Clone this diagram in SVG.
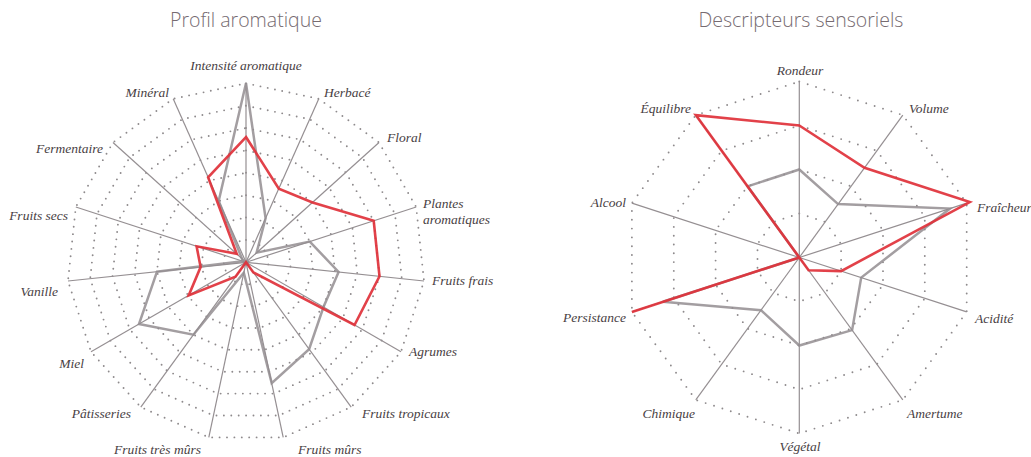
<svg xmlns="http://www.w3.org/2000/svg" width="1031" height="457" viewBox="0 0 1031 457">
<style>
.title{font-family:"Open Sans","Liberation Sans",sans-serif;font-weight:300;font-size:19.5px;fill:#766b71;text-anchor:middle}
.lbl{font-family:"Liberation Serif","DejaVu Serif",serif;font-style:italic;font-size:13.5px;fill:#483e43}
.ring{fill:none;stroke:#8e8a8c;stroke-width:1.9;stroke-linecap:round;stroke-dasharray:0 7.4}
.ring2{fill:none;stroke:#8e8a8c;stroke-width:1.9;stroke-linecap:round;stroke-dasharray:0 8.8}
.axis{stroke:#958f92;stroke-width:1.2;fill:none}
.gray{fill:none;stroke:#938d90;stroke-width:2.5;stroke-opacity:0.85;stroke-linejoin:miter}
.red{fill:none;stroke:#e0313a;stroke-width:2.6;stroke-opacity:0.92;stroke-linejoin:miter}
</style>
<rect width="1031" height="457" fill="#ffffff"/>
<text class="title" x="246" y="26.5">Profil aromatique</text>
<text class="title" x="801" y="26.5">Descripteurs sensoriels</text>

<g id="chart-profil" transform="translate(246,262.3)">
 <g id="rings-left">
  <polygon class="ring" points="0,-22.4 9.1,-20.4 16.6,-15 21.3,-6.9 22.3,2.3 19.4,11.2 13.2,18.1 4.7,21.9 -4.7,21.9 -13.2,18.1 -19.4,11.2 -22.3,2.3 -21.3,-6.9 -16.6,-15 -9.1,-20.4"/>
  <polygon class="ring" points="0,-44.75 18.2,-40.9 33.3,-29.9 42.6,-13.8 44.5,4.7 38.8,22.4 26.3,36.2 9.3,43.8 -9.3,43.8 -26.3,36.2 -38.8,22.4 -44.5,4.7 -42.6,-13.8 -33.3,-29.9 -18.2,-40.9"/>
  <polygon class="ring" points="0,-67.1 27.3,-61.3 49.9,-44.9 63.8,-20.7 66.8,7 58.1,33.6 39.5,54.3 14,65.7 -14,65.7 -39.5,54.3 -58.1,33.6 -66.8,7 -63.8,-20.7 -49.9,-44.9 -27.3,-61.3"/>
  <polygon class="ring" points="0,-89.5 36.4,-81.8 66.5,-59.9 85.1,-27.7 89,9.4 77.5,44.75 52.6,72.4 18.6,87.5 -18.6,87.5 -52.6,72.4 -77.5,44.75 -89,9.4 -85.1,-27.7 -66.5,-59.9 -36.4,-81.8"/>
  <polygon class="ring" points="0,-111.9 45.5,-102.2 83.1,-74.9 106.4,-34.6 111.3,11.7 96.9,55.9 65.8,90.5 23.3,109.4 -23.3,109.4 -65.8,90.5 -96.9,55.9 -111.3,11.7 -106.4,-34.6 -83.1,-74.9 -45.5,-102.2"/>
  <polygon class="ring" points="0,-134.25 54.6,-122.6 99.8,-89.8 127.7,-41.5 133.5,14 116.3,67.1 78.9,108.6 27.9,131.3 -27.9,131.3 -78.9,108.6 -116.3,67.1 -133.5,14 -127.7,-41.5 -99.8,-89.8 -54.6,-122.6"/>
  <polygon class="ring" points="0,-156.6 63.7,-143.1 116.4,-104.8 149,-48.4 155.8,16.4 135.6,78.3 92.1,126.7 32.6,153.2 -32.6,153.2 -92.1,126.7 -135.6,78.3 -155.8,16.4 -149,-48.4 -116.4,-104.8 -63.7,-143.1"/>
  <polygon class="ring" points="0,-179 72.8,-163.5 133,-119.8 170.2,-55.3 178,18.7 155,89.5 105.2,144.8 37.2,175.1 -37.2,175.1 -105.2,144.8 -155,89.5 -178,18.7 -170.2,-55.3 -133,-119.8 -72.8,-163.5"/>
 </g>
 <g id="axes-left" class="axis">
  <line x1="0" y1="0" x2="0" y2="-179"/>
  <line x1="0" y1="0" x2="72.8" y2="-163.5"/>
  <line x1="0" y1="0" x2="133" y2="-119.8"/>
  <line x1="0" y1="0" x2="170.2" y2="-55.3"/>
  <line x1="0" y1="0" x2="178" y2="18.7"/>
  <line x1="0" y1="0" x2="155" y2="89.5"/>
  <line x1="0" y1="0" x2="105.2" y2="144.8"/>
  <line x1="0" y1="0" x2="37.2" y2="175.1"/>
  <line x1="0" y1="0" x2="-37.2" y2="175.1"/>
  <line x1="0" y1="0" x2="-105.2" y2="144.8"/>
  <line x1="0" y1="0" x2="-155" y2="89.5"/>
  <line x1="0" y1="0" x2="-178" y2="18.7"/>
  <line x1="0" y1="0" x2="-170.2" y2="-55.3"/>
  <line x1="0" y1="0" x2="-133" y2="-119.8"/>
  <line x1="0" y1="0" x2="-72.8" y2="-163.5"/>
 </g>
 <g id="series-left">
  <polygon id="left-gray" class="gray" points="0,-179 19.6,-44.1 10.6,-9.6 63.8,-20.7 92.6,9.7 77.5,44.75 63.1,86.9 25.7,120.8 -2.2,10.5 -52.6,72.4 -107,61.8 -89,9.4 -3.4,-1.1 -4,-3.6 -27.3,-61.3"/>
  <polygon id="left-red" class="red" points="0,-125.3 32.8,-73.6 66.5,-59.9 127.7,-41.5 133.5,14 108.5,62.7 7.4,10.1 0,0 0,0 -10.5,14.5 -57.3,33.1 -45.4,4.8 -49.4,-16 -9.3,-8.4 -37.9,-85"/>
 </g>
</g>

<g id="labels-left" class="lbl">
 <text x="246" y="69.5" text-anchor="middle">Intensité aromatique</text>
 <text x="324" y="97">Herbacé</text>
 <text x="387" y="142">Floral</text>
 <text x="423" y="208">Plantes</text>
 <text x="423" y="224">aromatiques</text>
 <text x="432" y="285">Fruits frais</text>
 <text x="409" y="355.5">Agrumes</text>
 <text x="362" y="418">Fruits tropicaux</text>
 <text x="298" y="453.5">Fruits mûrs</text>
 <text x="201" y="453.5" text-anchor="end">Fruits très mûrs</text>
 <text x="131" y="418" text-anchor="end">Pâtisseries</text>
 <text x="84" y="368" text-anchor="end">Miel</text>
 <text x="58" y="296" text-anchor="end">Vanille</text>
 <text x="68" y="220" text-anchor="end">Fruits secs</text>
 <text x="103" y="153" text-anchor="end">Fermentaire</text>
 <text x="169" y="97" text-anchor="end">Minéral</text>
</g>

<g id="chart-descripteurs" transform="translate(799.3,257.5)">
 <g id="rings-right">
  <polygon class="ring2" points="0,-44 25.9,-35.6 41.8,-13.6 41.8,13.6 25.9,35.6 0,44 -25.9,35.6 -41.8,13.6 -41.8,-13.6 -25.9,-35.6"/>
  <polygon class="ring2" points="0,-88 51.7,-71.2 83.7,-27.2 83.7,27.2 51.7,71.2 0,88 -51.7,71.2 -83.7,27.2 -83.7,-27.2 -51.7,-71.2"/>
  <polygon class="ring2" points="0,-132 77.6,-106.8 125.5,-40.8 125.5,40.8 77.6,106.8 0,132 -77.6,106.8 -125.5,40.8 -125.5,-40.8 -77.6,-106.8"/>
  <polygon class="ring2" points="0,-176 103.5,-142.4 167.4,-54.4 167.4,54.4 103.5,142.4 0,176 -103.5,142.4 -167.4,54.4 -167.4,-54.4 -103.5,-142.4"/>
 </g>
 <g id="axes-right" class="axis">
  <line x1="0" y1="0" x2="0" y2="-176"/>
  <line x1="0" y1="0" x2="103.5" y2="-142.4"/>
  <line x1="0" y1="0" x2="167.4" y2="-54.4"/>
  <line x1="0" y1="0" x2="167.4" y2="54.4"/>
  <line x1="0" y1="0" x2="103.5" y2="142.4"/>
  <line x1="0" y1="0" x2="0" y2="176"/>
  <line x1="0" y1="0" x2="-103.5" y2="142.4"/>
  <line x1="0" y1="0" x2="-167.4" y2="54.4"/>
  <line x1="0" y1="0" x2="-167.4" y2="-54.4"/>
  <line x1="0" y1="0" x2="-103.5" y2="-142.4"/>
 </g>
 <g id="series-right">
  <polygon id="right-gray" class="gray" points="0,-88 38.8,-53.4 150.7,-48.9 61.9,20.1 52.8,72.6 0,88 -38.3,52.7 -136.4,44.3 0,0 -51.7,-71.2"/>
  <polygon id="right-red" class="red" points="0,-132 65.2,-89.7 170.5,-55.4 41.8,13.6 9.3,12.8 0,0 0,0 -167.4,54.4 0,0 -103.5,-142.4"/>
 </g>
</g>

<g id="labels-right" class="lbl">
 <text x="800" y="75" text-anchor="middle">Rondeur</text>
 <text x="909" y="113">Volume</text>
 <text x="977" y="211.5">Fraîcheur</text>
 <text x="975" y="323">Acidité</text>
 <text x="907" y="418">Amertume</text>
 <text x="800" y="451" text-anchor="middle">Végétal</text>
 <text x="695" y="418" text-anchor="end">Chimique</text>
 <text x="626" y="322" text-anchor="end">Persistance</text>
 <text x="626" y="206.5" text-anchor="end">Alcool</text>
 <text x="691" y="112.5" text-anchor="end">Équilibre</text>
</g>
</svg>
